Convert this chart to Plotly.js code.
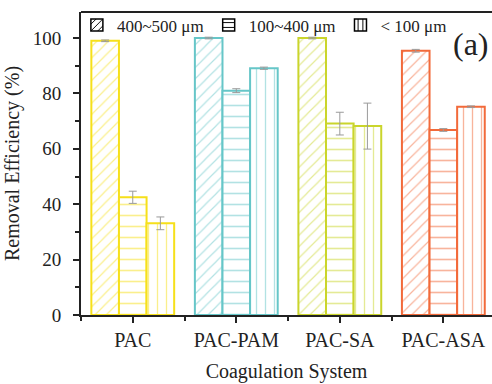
<!DOCTYPE html>
<html><head><meta charset="utf-8">
<script src="https://cdn.plot.ly/plotly-3.0.1.min.js"></script>
<style>html,body{margin:0;padding:0;background:#fff}#chart{width:492px;height:384px}</style>
</head><body><div id="chart"></div>
<script>
const categories = ["PAC", "PAC-PAM", "PAC-SA", "PAC-ASA"];
const seriesNames = ["400~500 μm", "100~400 μm", "< 100 μm"];
const coarse = [99.0, 100.0, 100.0, 95.4];
const coarseErr = [0.3, 0.3, 0.3, 0.5];
const medium = [42.5, 81.0, 69.1, 66.8];
const mediumErr = [2.2, 0.7, 4.1, 0.5];
const fine = [33.1, 89.1, 68.2, 75.2];
const fineErr = [2.3, 0.4, 8.3, 0.3];
const catColors = ["#f6e01a", "#66c6c8", "#cad52c", "#f26a3a"];

const xs = categories.map((_, i) => i);
const shapes = ["/", "-", "|"];
const sizes = [8, 11, 9];
const vals = [coarse, medium, fine];
const errs = [coarseErr, mediumErr, fineErr];
const font = "'Liberation Serif', 'Times New Roman', serif";

const traces = [];
for (let k = 0; k < 3; k++) {
  traces.push({
    type: "bar", x: xs, y: vals[k], name: seriesNames[k], showlegend: false,
    offsetgroup: String(k),
    marker: { color: "#ffffff", line: { color: catColors, width: 2 },
      pattern: { shape: shapes[k], fgcolor: catColors, bgcolor: "#ffffff", size: sizes[k], solidity: 0.15, fillmode: "overlay" } },
    error_y: { type: "data", array: errs[k], visible: true, color: "#9a9a9a", thickness: 1, width: 4 },
    hoverinfo: "skip"
  });
}
for (let k = 0; k < 3; k++) {
  traces.push({
    type: "bar", x: xs, y: xs.map(() => null), name: seriesNames[k], showlegend: true,
    offsetgroup: String(k),
    marker: { color: "#ffffff", line: { color: "#000", width: 1.5 },
      pattern: { shape: shapes[k], fgcolor: "#000", bgcolor: "#ffffff", size: 6, solidity: 0.2 } }
  });
}

const layout = {
  width: 492, height: 384,
  margin: { l: 81, r: 0, t: 12, b: 69 },
  paper_bgcolor: "#fff", plot_bgcolor: "#fff",
  barmode: "group", bargap: 0.2, bargroupgap: 0,
  font: { family: font, size: 20, color: "#222" },
  showlegend: true,
  legend: { orientation: "h", x: -0.01, xanchor: "left", y: 1.015, yanchor: "top",
    bgcolor: "rgba(0,0,0,0)", font: { family: font, size: 17, color: "#222" },
    itemwidth: 30, tracegroupgap: 0, traceorder: "normal" },
  xaxis: {
    range: [-0.5, 3.47], tickvals: xs, ticktext: categories,
    showgrid: false, zeroline: false, showline: true, linecolor: "#222", linewidth: 2,
    ticks: "outside", ticklen: 6, tickwidth: 2, tickcolor: "#222",
    minor: { ticks: "outside", ticklen: 4, tickwidth: 2, tickcolor: "#222", tick0: 0.5, dtick: 1, showgrid: false },
    tickfont: { family: font, size: 20, color: "#222" },
    title: { text: "Coagulation System", font: { family: font, size: 20, color: "#222" }, standoff: 14 }
  },
  yaxis: {
    range: [0, 109.4], tickvals: [0, 20, 40, 60, 80, 100],
    showgrid: false, zeroline: false, showline: true, linecolor: "#222", linewidth: 2,
    ticks: "outside", ticklen: 6, tickwidth: 2, tickcolor: "#222",
    minor: { ticks: "outside", ticklen: 4, tickwidth: 2, tickcolor: "#222", tick0: 10, dtick: 20, showgrid: false },
    tickfont: { family: font, size: 19, color: "#222" },
    ticklabelstandoff: 8,
    title: { text: "Removal Efficiency (%)", font: { family: font, size: 20, color: "#222" }, standoff: 8 }
  },
  shapes: [{ type: "line", xref: "paper", yref: "paper", x0: 0, x1: 1, y0: 1, y1: 1, line: { color: "#222", width: 2 } }],
  annotations: [{ text: "(a)", xref: "paper", yref: "paper", x: 0.95, y: 0.895, xanchor: "center", yanchor: "middle",
    showarrow: false, font: { family: font, size: 32, color: "#222" } }]
};
Plotly.newPlot("chart", traces, layout, { displayModeBar: false, staticPlot: true });
</script></body></html>
